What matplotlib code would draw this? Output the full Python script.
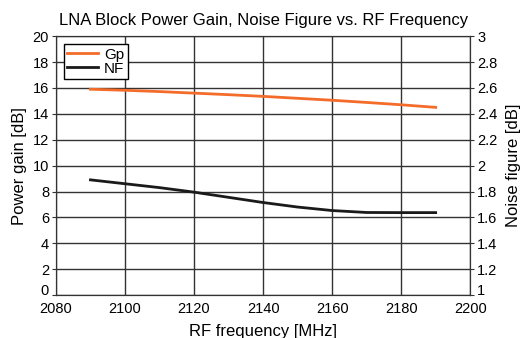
import matplotlib.pyplot as plt

plt.rcParams['font.family'] = ['Liberation Sans', 'DejaVu Sans']

freq = [2090, 2100, 2110, 2120, 2130, 2140, 2150, 2160, 2170, 2180, 2190]
gp = [15.9, 15.82, 15.72, 15.6, 15.48, 15.35, 15.2, 15.05, 14.88, 14.7, 14.5]
nf = [1.89, 1.86, 1.83, 1.795, 1.755, 1.715, 1.68, 1.653, 1.638, 1.637, 1.637]

fig = plt.figure(figsize=(5.23, 3.38), dpi=100)
ax = fig.add_axes([0.107, 0.127, 0.792, 0.766])
ax2 = ax.twinx()

l1, = ax.plot(freq, gp, color='#f36c2a', lw=2)
l2, = ax2.plot(freq, nf, color='#1a1a1a', lw=2)

ax.set_xlim(2080, 2200)
ax.set_ylim(0, 20)
ax2.set_ylim(1, 3)
ax.set_xticks(range(2080, 2201, 20))
ax.set_yticks(range(0, 21, 2))
ax2.set_yticks([1, 1.2, 1.4, 1.6, 1.8, 2, 2.2, 2.4, 2.6, 2.8, 3])
ax2.set_yticklabels(['1', '1.2', '1.4', '1.6', '1.8', '2', '2.2', '2.4', '2.6', '2.8', '3'])

ax.grid(True, color='#333333', lw=1)
ax.set_axisbelow(True)
ax.tick_params(axis='x', length=0, labelsize=10.5, pad=5)
ax.tick_params(axis='y', length=3, labelsize=10.5, pad=2, color='#333333')
ax2.tick_params(axis='y', length=3, labelsize=10.5, pad=2, color='#333333')
for a in (ax, ax2):
    for s in a.spines.values():
        s.set_color('#333333')

# bottom labels sit on the axis line
ax.get_yticklabels()[0].set_va('baseline')
ax2.get_yticklabels()[0].set_va('baseline')

ax.set_xlabel('RF frequency [MHz]', fontsize=12, labelpad=6)
ax.set_ylabel('Power gain [dB]', fontsize=12, labelpad=4)
ax2.set_ylabel('Noise figure [dB]', fontsize=12, labelpad=6)
ax.set_title('LNA Block Power Gain, Noise Figure vs. RF Frequency', fontsize=12, pad=8)

leg = ax.legend([l1, l2], ['Gp', 'NF'], loc='upper left', fancybox=False,
                edgecolor='black', framealpha=1, fontsize=11,
                handlelength=2, borderpad=0.25, labelspacing=0.0,
                handletextpad=0.4, borderaxespad=0.5)
leg.get_frame().set_linewidth(1)

fig.savefig('out.png', dpi=100)
